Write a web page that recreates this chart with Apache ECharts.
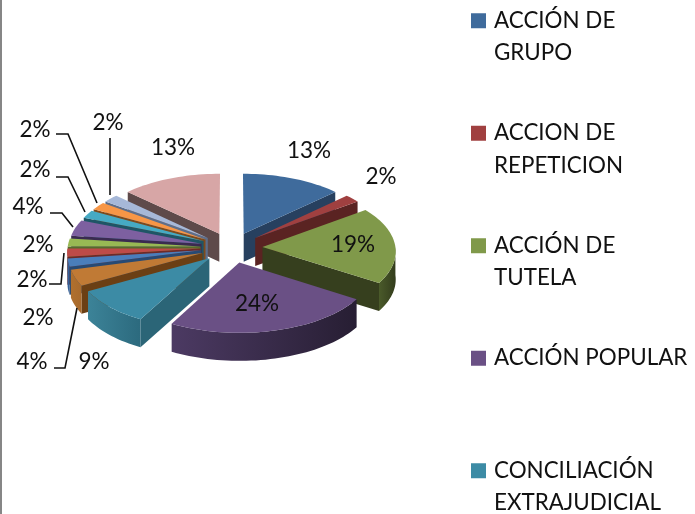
<!DOCTYPE html>
<html><head><meta charset="utf-8">
<style>html,body{margin:0;padding:0;background:#fff}#c{width:695px;height:514px}</style>
<script src="https://cdn.jsdelivr.net/npm/echarts@6/dist/echarts.min.js"></script>
</head><body><div id="c"></div>
<script>
// Data
const categories = ['ACCIÓN DE\nGRUPO','ACCION DE\nREPETICION','ACCIÓN DE\nTUTELA','ACCIÓN POPULAR','CONCILIACIÓN\nEXTRAJUDICIAL'];
const percentValues = [13,2,19,24,9,4,2,2,2,4,2,2,2,13];

// Styling / layout
const topColors  = ['#3F6B9C','#A04040','#80994A','#6A5085','#3C8BA5','#C07A35','#4A7EBB','#BE4B48','#98B954','#7D60A0','#46AAC4','#F79646','#A6B8D8','#D7A6A6'];
const wallColors = [['#2F507A','#284468'],['#702C2A','#5C2422'],['#4A5A2A','#333C1C'],['#4C3A63','#271E33'],['#3C8398','#2C6A7E'],['#B0702E','#A86A2C'],['#3A66A0','#2F5A90'],['#A03C3A','#903432'],['#7C9644','#6A853A'],['#644A84','#5A4078'],['#38889C','#2F7A90'],['#C87838','#B86C30'],['#8494B0','#7888A4'],['#7A6060','#6A5252']];
const cutColors  = ['#27405F','#5A2322','#363F1E','#2E2238','#2B6577','#6B3F14','#274A74','#6E2A28','#566B2C','#3A2B50','#1F5566','#7E4A1C','#5E6E8A','#5E4A4A'];
const labelAnchors = [[309,151],[381,177],[353,245],[257,304],[94,362],[32,362],[38,318],[32,280],[38,245],[28,207],[35,170],[35,130],[108,123],[173,148]];
const leaderLines = {5:[[54,368],[65,368],[77,308]],7:[[49,284],[61,284],[64,253]],9:[[50,213],[62,213],[73,227]],10:[[56,177],[68,177],[85,212]],11:[[56,134],[68,134],[97,203]],12:[[110,138],[110,195]]};

const cx = 231.5, cy = 247.5, R = 133, flat = 0.49, persp = 0.056, explode = 0.233, depth = 28;
const FONT = 'Lato, "Open Sans", sans-serif', FS = 22.5;
const rad = d => d * Math.PI / 180;
function project(X, Y, dz) {
  const s = 1 + persp * Y;
  return [cx + R * X * s, cy + R * flat * Y * s + (dz || 0)];
}
const total = percentValues.reduce((a, b) => a + b, 0);
let acc = 0;
const slices = percentValues.map((v, i) => {
  const a0 = acc / total * 360; acc += v;
  const a1 = acc / total * 360, mid = (a0 + a1) / 2;
  return { i, v, a0, a1, ax: explode * Math.sin(rad(mid)), ay: -explode * Math.cos(rad(mid)) };
});
const rim = (s, a) => [s.ax + Math.sin(rad(a)), s.ay - Math.cos(rad(a))];
function arcPts(s, from, to, dz) {
  const pts = [], n = Math.max(2, Math.ceil((to - from) / 2));
  for (let k = 0; k <= n; k++) { const r = rim(s, from + (to - from) * k / n); pts.push(project(r[0], r[1], dz)); }
  return pts;
}
function sliceShapes(s) {
  const kids = [];
  const apexT = project(s.ax, s.ay, 0), apexB = project(s.ax, s.ay, depth);
  const face = (a, col) => {
    const r = rim(s, a);
    kids.push({ type: 'polygon', shape: { points: [apexT, project(r[0], r[1], 0), project(r[0], r[1], depth), apexB] }, style: { fill: col } });
  };
  // cut faces that turn toward the viewer
  if (Math.cos(rad(s.a0 - 90)) < -0.001) face(s.a0, cutColors[s.i]);
  if (Math.cos(rad(s.a1 + 90)) < -0.001) face(s.a1, cutColors[s.i]);
  // outer wall, only its front half
  const from = Math.max(s.a0, 90), to = Math.min(s.a1, 270);
  if (to > from) {
    const top = arcPts(s, from, to, 0), bot = arcPts(s, from, to, depth).reverse();
    const c = wallColors[s.i];
    kids.push({ type: 'polygon', shape: { points: top.concat(bot) }, style: {
      fill: new echarts.graphic.LinearGradient(0, 0, 1, 0, [{ offset: 0, color: c[0] }, { offset: 1, color: c[1] }]) } });
  }
  kids.push({ type: 'polygon', shape: { points: [apexT].concat(arcPts(s, s.a0, s.a1, 0)) }, style: { fill: topColors[s.i] } });
  return kids;
}
const order = slices.slice().sort((p, q) => p.ay - q.ay);
const series = order.map((s, rank) => ({
  type: 'custom', coordinateSystem: 'none', silent: true, z: 2 + rank * 0.01, zlevel: 0,
  name: s.i < categories.length ? categories[s.i] : 'sector ' + (s.i + 1),
  itemStyle: { color: topColors[s.i] },
  data: [[s.v]],
  renderItem: () => ({ type: 'group', children: sliceShapes(s) })
}));
series.push({
  type: 'custom', coordinateSystem: 'none', silent: true, z: 5, name: 'labels',
  data: percentValues.map((v, i) => [i, v]),
  renderItem: (p, api) => {
    const i = api.value(0), kids = [];
    if (leaderLines[i]) kids.push({ type: 'polyline', shape: { points: leaderLines[i] }, style: { fill: null, stroke: '#111', lineWidth: 1.6 } });
    kids.push({ type: 'text', x: labelAnchors[i][0], y: labelAnchors[i][1], style: { text: api.value(1) + '%', font: FS + 'px ' + FONT, fill: '#111', align: 'center', verticalAlign: 'middle' } });
    return { type: 'group', children: kids };
  }
});
const chart = echarts.init(document.getElementById('c'), null, { renderer: 'canvas' });
chart.setOption({
  animation: false,
  backgroundColor: '#fff',
  legend: {
    orient: 'vertical', left: 471, top: -28, height: 2000, padding: 0,
    itemWidth: 15, itemHeight: 15, itemGap: 15, icon: 'rect', selectedMode: false,
    data: categories,
    formatter: n => n.indexOf('\n') >= 0 ? '\n' + n : '\n' + n + '\n ',
    textStyle: { fontFamily: FONT, fontSize: 22.4, lineHeight: 32.5, color: '#111', padding: [0, 0, 0, 3] }
  },
  graphic: [{ type: 'line', shape: { x1: 1, y1: 0, x2: 1, y2: 514 }, style: { stroke: '#868686', lineWidth: 2 } }],
  series
});
</script></body></html>
